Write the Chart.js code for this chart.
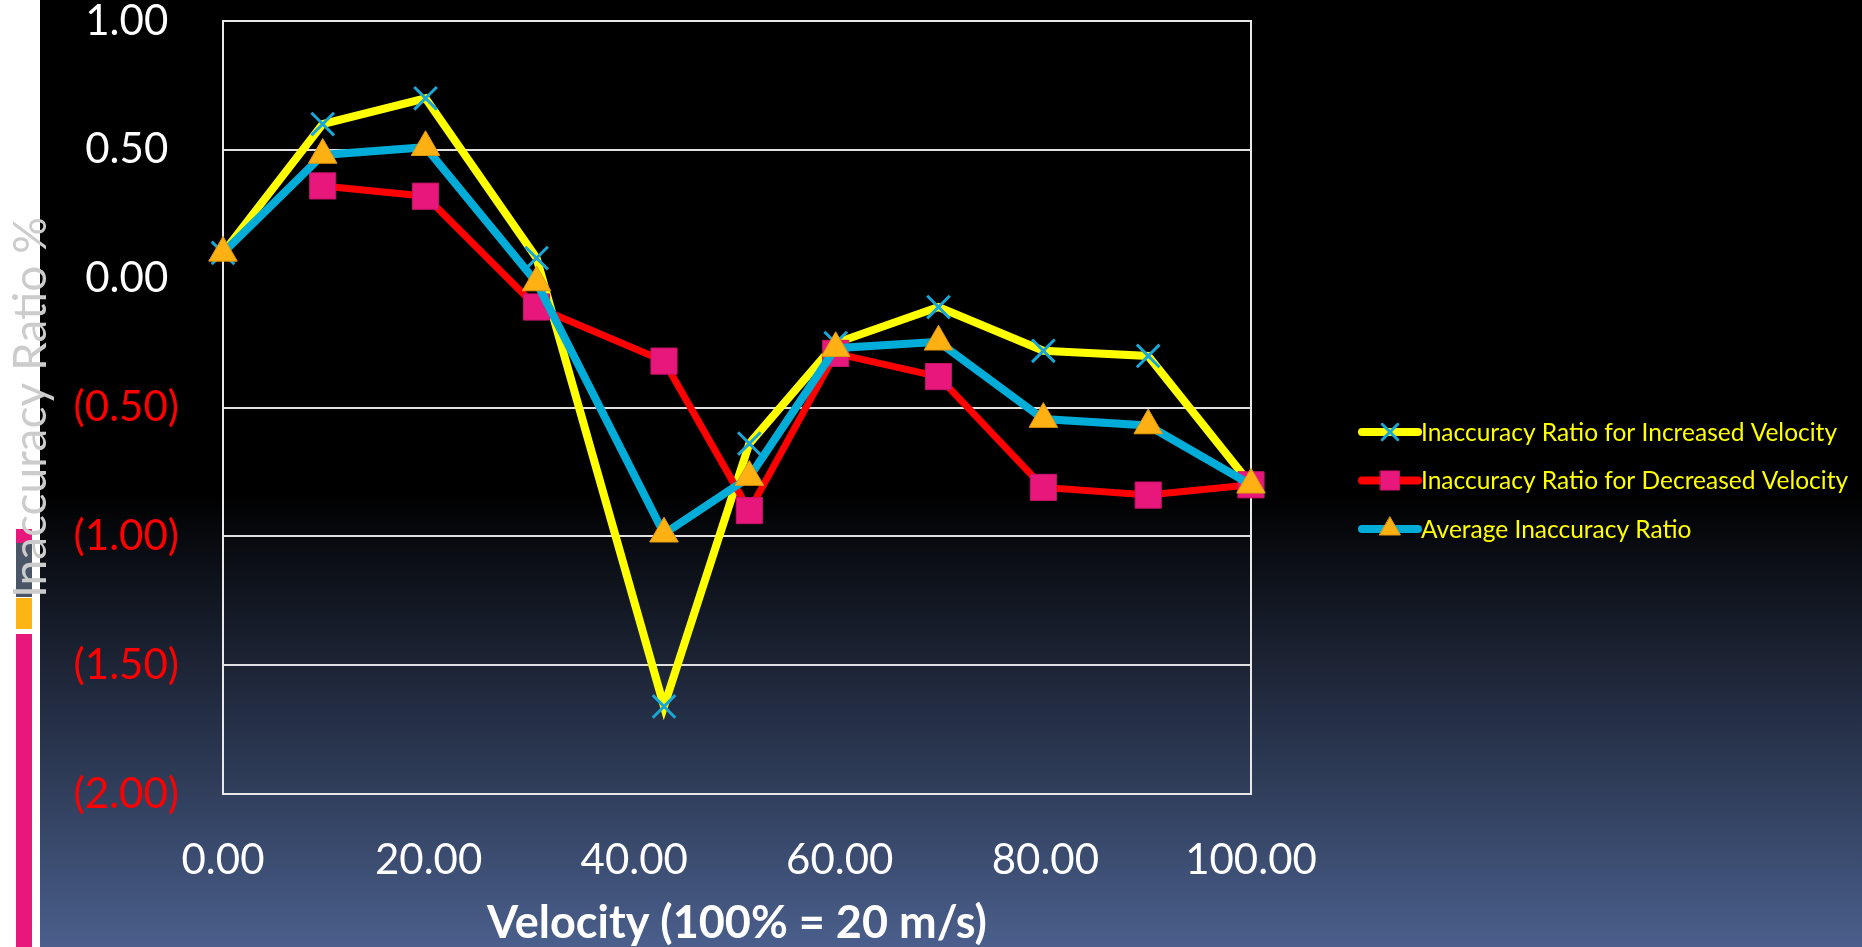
<!DOCTYPE html>
<html>
<head>
<meta charset="utf-8">
<script src="https://cdn.jsdelivr.net/npm/chart.js@4/dist/chart.umd.min.js"></script>
<style>
  html, body { margin: 0; padding: 0; background: #000; overflow: hidden; }
  #wrap { position: absolute; left: 0; top: 0; width: 1862px; height: 947px; }
</style>
</head>
<body>
<div id="wrap"><canvas id="c" width="1862" height="947"></canvas></div>
<script>
// Velocity as % of 20 m/s
const velocity = [0, 9.7, 19.7, 30.5, 42.9, 51.2, 59.6, 69.6, 79.8, 90.0, 100];

// Inaccuracy ratio (%) per series; no decreased-velocity reading at 0
const increased = [0.10, 0.60, 0.70, 0.08, -1.66, -0.64, -0.25, -0.11, -0.28, -0.30, -0.80];
const decreased = [null, 0.36, 0.32, -0.11, -0.32, -0.90, -0.29, -0.38, -0.81, -0.84, -0.80];
const average   = [0.10, 0.48, 0.51, -0.015, -0.99, -0.77, -0.27, -0.245, -0.545, -0.57, -0.80];

const seriesNames = [
  'Inaccuracy Ratio for Increased Velocity',
  'Inaccuracy Ratio for Decreased Velocity',
  'Average Inaccuracy Ratio'
];

const xTicks = { min: 0, max: 100, step: 20 };
const yTicks = { min: -2, max: 1, step: 0.5 };

const toPoints = (xs, ys) => xs.map((x, i) => ({ x: x, y: ys[i] }));

// Slide background: white margin strip, accent bars, dark gradient
const slideBackground = {
  id: 'slideBackground',
  beforeDraw(chart) {
    const { ctx, width, height } = chart;
    ctx.save();
    ctx.fillStyle = '#ffffff';
    ctx.fillRect(0, 0, 40, height);
    const g = ctx.createLinearGradient(0, 0, 0, height);
    g.addColorStop(0, '#000000');
    g.addColorStop(0.52, '#000000');
    g.addColorStop(1, '#4a5f8c');
    ctx.fillStyle = g;
    ctx.fillRect(40, 0, width - 40, height);
    ctx.fillStyle = '#e8177b';
    ctx.fillRect(16, 529, 16, 14);
    ctx.fillStyle = '#4b5568';
    ctx.fillRect(16, 543, 16, 54);
    ctx.fillStyle = '#fdb515';
    ctx.fillRect(16, 598, 16, 31);
    ctx.fillStyle = '#e8177b';
    ctx.fillRect(16, 634, 16, height - 634);
    ctx.restore();
  }
};

// White frame around the plot area
const plotFrame = {
  id: 'plotFrame',
  beforeDatasetsDraw(chart) {
    const { ctx, chartArea: a } = chart;
    ctx.save();
    ctx.strokeStyle = '#e8e8e8';
    ctx.lineWidth = 2;
    ctx.strokeRect(a.left, a.top, a.right - a.left, a.bottom - a.top);
    ctx.restore();
  }
};

// Legend on the right: line sample with its marker in the middle
const sideLegend = {
  id: 'sideLegend',
  afterDraw(chart) {
    const ctx = chart.ctx;
    chart.data.datasets.forEach((ds, i) => {
      const y = 432 + i * 48.5;
      ctx.save();
      ctx.strokeStyle = ds.borderColor;
      ctx.lineWidth = 8;
      ctx.lineCap = 'round';
      ctx.beginPath();
      ctx.moveTo(1362, y);
      ctx.lineTo(1418, y);
      ctx.stroke();
      ctx.fillStyle = ds.pointBackgroundColor;
      ctx.strokeStyle = ds.pointBorderColor;
      ctx.lineWidth = ds.pointBorderWidth;
      Chart.helpers.drawPoint(ctx, {
        pointStyle: ds.pointStyle,
        radius: ds.keyRadius,
        rotation: 0,
        borderWidth: ds.pointBorderWidth
      }, 1390, y);
      ctx.fillStyle = '#ffff00';
      ctx.font = '24.5px Lato';
      ctx.textAlign = 'left';
      ctx.textBaseline = 'middle';
      ctx.fillText(ds.label, 1421, y + 1);
      ctx.restore();
    });
  }
};

const tickFont = { family: 'Lato', size: 42, lineHeight: 1 };

new Chart(document.getElementById('c'), {
  type: 'line',
  data: {
    datasets: [
      {
        label: seriesNames[0],
        data: toPoints(velocity, increased),
        borderColor: '#ffff00',
        borderWidth: 8,
        pointStyle: 'crossRot',
        pointRadius: 16,
        keyRadius: 11,
        pointBackgroundColor: '#1aa6d6',
        pointBorderColor: '#1aa6d6',
        pointBorderWidth: 3,
        tension: 0,
        clip: false,
        order: 3
      },
      {
        label: seriesNames[1],
        data: toPoints(velocity, decreased),
        borderColor: '#ff0000',
        borderWidth: 7,
        pointStyle: 'rect',
        pointRadius: 18.5,
        keyRadius: 13.5,
        pointBackgroundColor: '#e8177b',
        pointBorderColor: '#c8146a',
        pointBorderWidth: 1,
        tension: 0,
        clip: false,
        order: 2
      },
      {
        label: seriesNames[2],
        data: toPoints(velocity, average),
        borderColor: '#00acd8',
        borderWidth: 8,
        pointStyle: 'triangle',
        pointRadius: 16.5,
        keyRadius: 12,
        pointBackgroundColor: '#ffb114',
        pointBorderColor: '#e09a10',
        pointBorderWidth: 1,
        tension: 0,
        clip: false,
        order: 1
      }
    ]
  },
  options: {
    responsive: false,
    animation: false,
    layout: { padding: { left: 4, top: 20, right: 611, bottom: 0 } },
    plugins: {
      legend: { display: false },
      tooltip: { enabled: false }
    },
    scales: {
      x: {
        type: 'linear',
        min: xTicks.min,
        max: xTicks.max,
        ticks: {
          stepSize: xTicks.step,
          color: '#ffffff',
          font: tickFont,
          padding: 45,
          maxRotation: 0,
          autoSkip: false,
          callback: v => v.toFixed(2)
        },
        grid: { display: false, drawTicks: false },
        border: { display: false },
        title: {
          display: true,
          text: 'Velocity (100% = 20 m/s)',
          color: '#ffffff',
          font: { family: 'Lato', size: 45, weight: 'bold', lineHeight: 1.05 },
          padding: 0
        },
        afterFit(scale) { scale.height = 153; }
      },
      y: {
        min: yTicks.min,
        max: yTicks.max,
        ticks: {
          stepSize: yTicks.step,
          font: tickFont,
          padding: 0,
          color: ctx => (ctx.tick && ctx.tick.value < 0) ? '#ff0000' : '#ffffff',
          callback: v => v < 0 ? '(' + Math.abs(v).toFixed(2) + ')' : v.toFixed(2) + ' '
        },
        grid: {
          drawTicks: true,
          tickLength: 44,
          tickColor: 'rgba(0,0,0,0)',
          lineWidth: 2,
          color: ctx => (ctx.tick && ctx.tick.value === 0) ? 'rgba(0,0,0,0)' : '#e0e0e0'
        },
        border: { display: false },
        title: {
          display: true,
          text: 'Inaccuracy Ratio %',
          color: '#cccccc',
          font: { family: 'Lato', size: 46, lineHeight: 1.2 },
          padding: { top: 0, bottom: 0 }
        },
        afterFit(scale) { scale.width = 219; }
      }
    }
  },
  plugins: [slideBackground, plotFrame, sideLegend]
});
</script>
</body>
</html>
